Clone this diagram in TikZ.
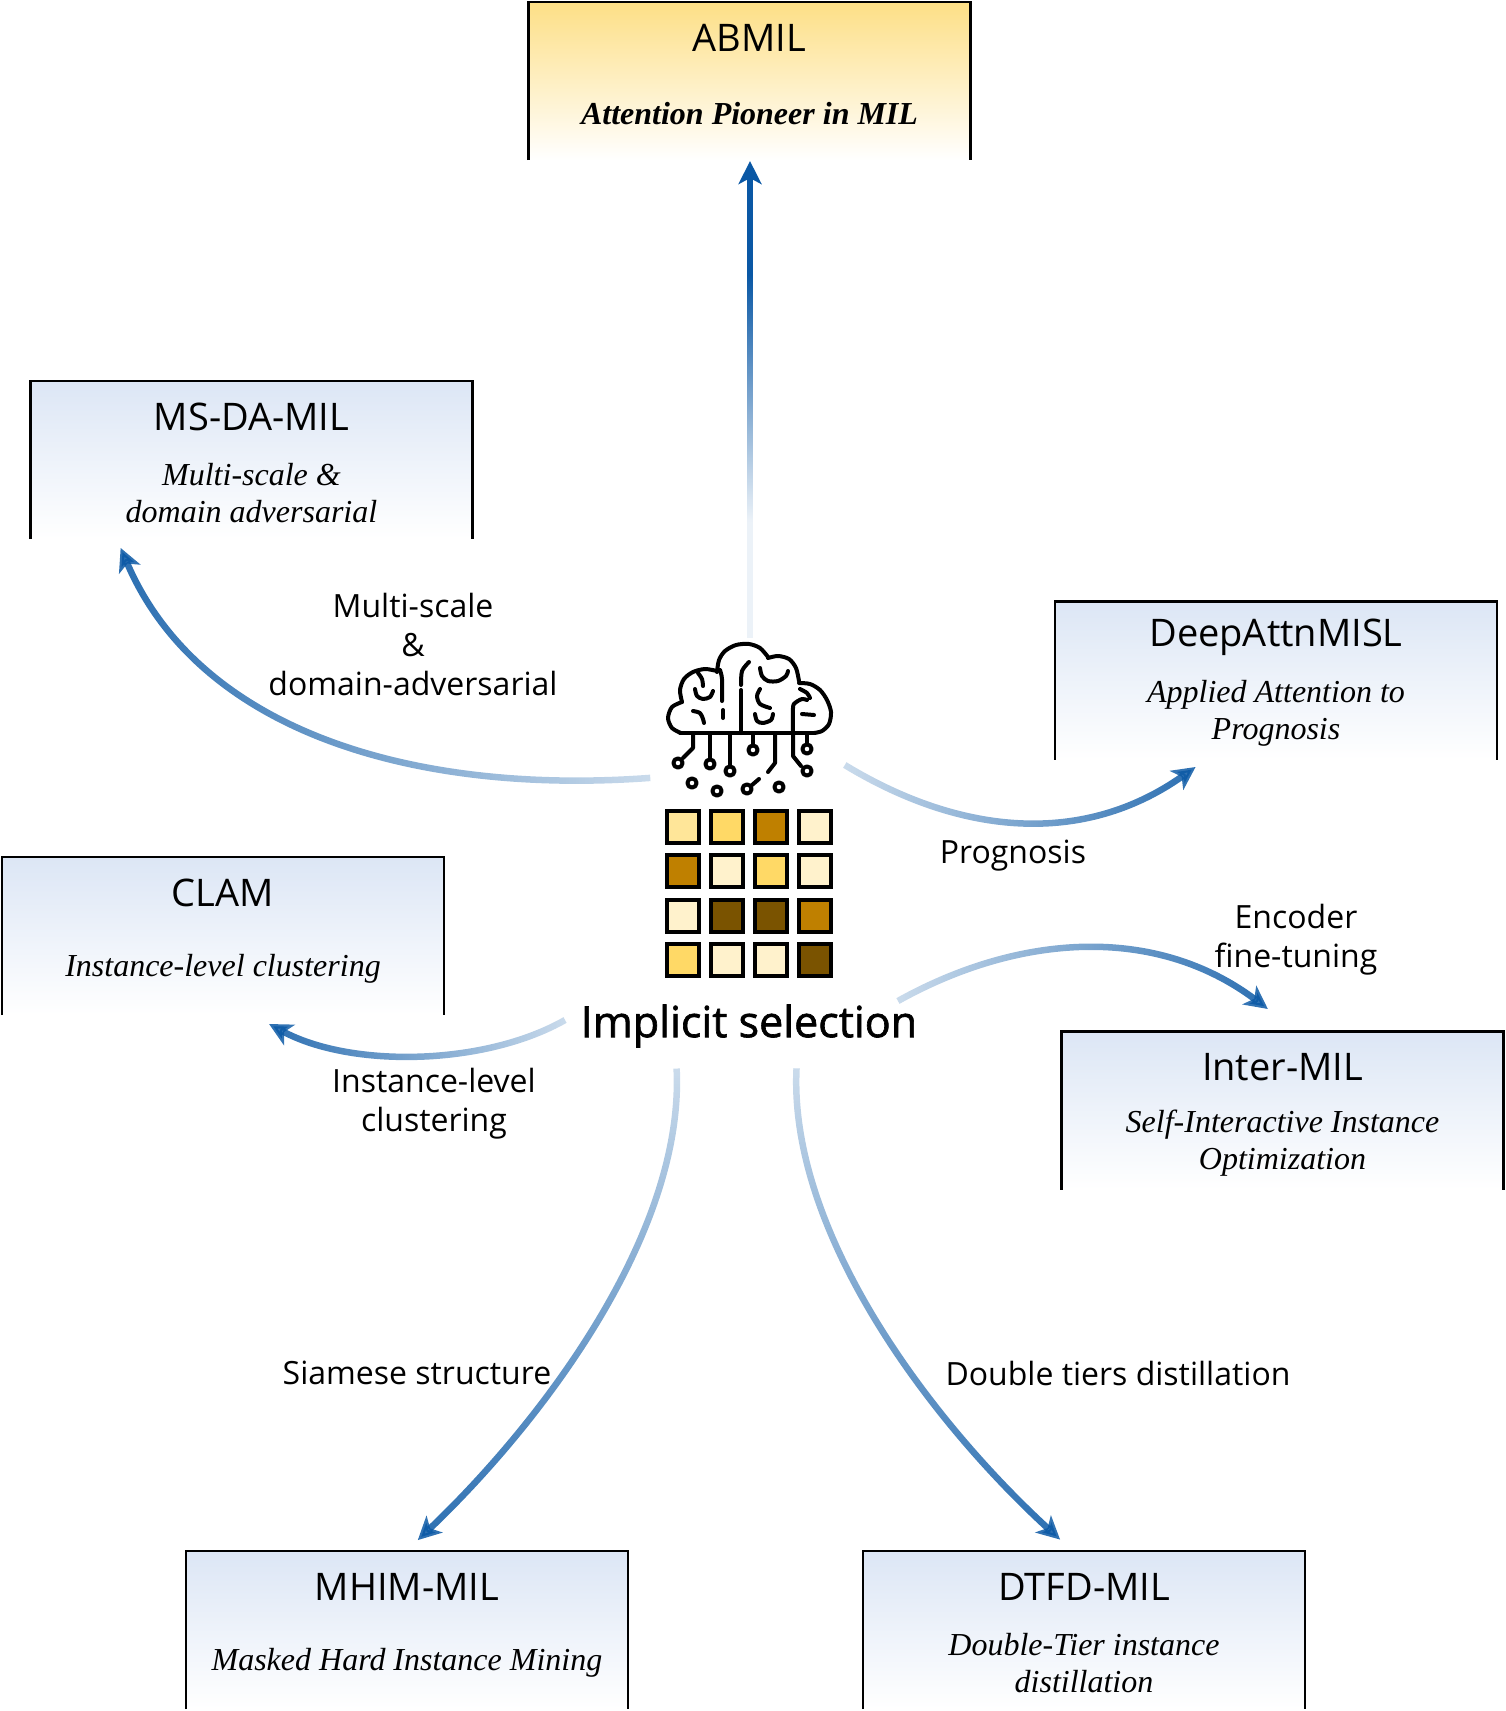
\documentclass[tikz,border=0pt]{standalone}
\usepackage{fontspec}
\setmainfont{Liberation Serif}
\setsansfont{Open Sans}
\usetikzlibrary{arrows.meta,fadings}

\definecolor{boxblue}{HTML}{DCE6F5}
\definecolor{boxgold}{HTML}{FDDF86}
\definecolor{arrowblue}{RGB}{10,88,165}
\definecolor{cream}{HTML}{FFF2CC}
\definecolor{lgold}{HTML}{FFE699}
\definecolor{gold}{HTML}{FFD966}
\definecolor{brown}{HTML}{BF8000}
\definecolor{dbrown}{HTML}{7A5300}

\tikzfading[name=flowfade, left color=transparent!92, middle color=transparent!20, right color=transparent!0]

\begin{document}
\begin{tikzpicture}[x=1pt, y=-1pt,
    method/.style={minimum width=442pt, minimum height=158pt, inner sep=0pt,
        top color=boxblue, bottom color=white},
    edge/.style={line width=2.5pt, black},
    title/.style={font=\sffamily\fontsize{38}{44}\selectfont},
    sub/.style={font=\fontsize{32}{37}\selectfont\itshape, align=center},
    lbl/.style={font=\sffamily\fontsize{32}{39}\selectfont, align=center},
    hub/.style={font=\sffamily\fontsize{43}{50}\selectfont\addfontfeatures{FakeBold=1.5}},
    flow/.style={draw=arrowblue, line width=6.5pt,
        -{Stealth[length=23pt, width=23pt, inset=6pt]}, path fading=flowfade},
    fade/.style={fading transform={rotate=#1, scale=1.4}},
    icon/.style={line width=4pt, line cap=round, line join=round},
    cell/.style={line width=4pt, draw=black}]
    \useasboundingbox (0,0) rectangle (1505,1711);

    \node[method, top color=boxgold] (abmil) at (749.5,81) {};
    \node[method] (msda) at (251.5,460) {};
    \node[method] (deep) at (1276,680.5) {};
    \node[method] (clam) at (223,936) {};
    \node[method] (inter) at (1282.5,1110.5) {};
    \node[method] (mhim) at (407,1630) {};
    \node[method] (dtfd) at (1084,1630) {};
    \foreach \b in {abmil,msda,deep,clam,inter,mhim,dtfd}
        \draw[edge] (\b.south west) |- (\b.north east) -- (\b.south east);

    \node[title] (abmil-t) at ([yshift=-36pt]abmil.north) {ABMIL};
    \node[sub, font=\fontsize{32}{37}\selectfont\bfseries\itshape] (abmil-s) at ([yshift=-112pt]abmil.north) {Attention Pioneer in MIL};
    \node[title] (msda-t) at ([yshift=-36pt]msda.north) {MS-DA-MIL};
    \node[sub] (msda-s) at ([yshift=-112pt]msda.north) {Multi-scale \&\\domain adversarial};
    \node[title] (deep-t) at ([yshift=-36pt]deep.north) {DeepAttnMISL};
    \node[sub] (deep-s) at ([yshift=-112pt]deep.north) {Applied Attention to\\Prognosis};
    \node[title] (clam-t) at ([yshift=-36pt]clam.north) {CLAM};
    \node[sub] (clam-s) at ([yshift=-112pt]clam.north) {Instance-level clustering};
    \node[title] (inter-t) at ([yshift=-36pt]inter.north) {Inter-MIL};
    \node[sub] (inter-s) at ([yshift=-112pt]inter.north) {Self-Interactive Instance\\Optimization};
    \node[title] (mhim-t) at ([yshift=-36pt]mhim.north) {MHIM-MIL};
    \node[sub] (mhim-s) at ([yshift=-112pt]mhim.north) {Masked Hard Instance Mining};
    \node[title] (dtfd-t) at ([yshift=-36pt]dtfd.north) {DTFD-MIL};
    \node[sub] (dtfd-s) at ([yshift=-112pt]dtfd.north) {Double-Tier instance\\distillation};

    \node[hub] (hub) at (749,1026) {Implicit selection};

    \node[lbl] (msda-l) at (413,644) {Multi-scale\\\&\\domain-adversarial};
    \node[lbl] (deep-l) at (1013,856) {Prognosis};
    \node[lbl] (inter-l) at (1296,940) {Encoder\\fine-tuning};
    \node[lbl] (clam-l) at (434,1104) {Instance-level\\clustering};
    \node[lbl] (mhim-l) at (417,1373) {Siamese structure};
    \node[lbl] (dtfd-l) at (1118,1373) {Double tiers distillation};

    % brain
    \draw[icon] (680,733) -- (815,733);
    \draw[icon] plot[smooth] coordinates {(681,733) (672,728) (668,718) (672,707) (682,702)};
    \draw[icon] plot[smooth] coordinates {(682,702) (680,690) (684,679) (693,672) (705,669) (717,671)};
    \draw[icon] plot[smooth] coordinates {(717,672) (719,660) (725,651) (736,645) (749,644) (760,648) (768,657)};
    \draw[icon] plot[smooth] coordinates {(768,658) (778,656) (789,659) (796,668) (799,681)};
    \draw[icon] plot[smooth] coordinates {(799,683) (810,684) (820,690) (827,700) (831,712) (829,724) (822,731) (814,733)};
    \draw[icon] plot[smooth] coordinates {(698,673) (702,679) (703,686)};
    \draw[icon] plot[smooth] coordinates {(695,689) (697,696) (703,699) (710,697) (713,691)};
    \draw[icon] plot[smooth] coordinates {(720,670) (722,679) (722,701)};
    \draw[icon] (723,710) -- (723,718);
    \draw[icon] plot[smooth] coordinates {(693,711) (700,713) (703,719) (704,723)};
    \draw[icon] (741,690) -- (741,733);
    \draw[icon] plot[smooth] coordinates {(741,685) (742,671) (749,662)};
    \draw[icon] plot[smooth] coordinates {(760,668) (762,676) (768,681) (778,681) (786,676) (788,671)};
    \draw[icon] plot[smooth] coordinates {(760,689) (757,696) (760,704) (770,708)};
    \draw[icon] plot[smooth] coordinates {(755,714) (757,721) (763,723) (771,720) (773,714)};
    \draw[icon] plot[smooth] coordinates {(793,733) (793,708) (795,703) (802,699) (807,700)};
    \draw[icon] plot[smooth] coordinates {(800,689) (807,693) (810,698)};
    \draw[icon] (802,714) -- (814,715);
    % circuits
    \draw[icon] (693,733) -- (693,748) -- (683,758);
    \draw[icon] (710,733) -- (710,758);
    \draw[icon] (730,733) -- (730,765);
    \draw[icon] (753,733) -- (753,744);
    \draw[icon] (775,733) -- (775,763) -- (768,772);
    \draw[icon] (793,733) -- (793,756) -- (801,766);
    \draw[icon] (807,733) -- (807,743);
    \draw[icon] (752,785) -- (759,779);
    \foreach \p in {(678,763),(710,764),(730,771),(753,750),(807,771),(807,749),(692,783),(717,791),(747,789),(779,787)}
        \draw[icon] \p circle[radius=4.6];

    % tiles
    \foreach \cl [count=\r from 0] in {{lgold,gold,brown,cream},{brown,cream,gold,cream},{cream,dbrown,dbrown,brown},{gold,cream,cream,dbrown}}
        \foreach \c [count=\k from 0] in \cl
            \draw[cell, fill=\c] (666.5+44.3*\k, 811+44.3*\r) rectangle +(32,32);

    \coordinate (abmil-out) at (750,638);
    \coordinate (abmil-in) at (750,161);
    \coordinate (msda-out) at (650,778);
    \coordinate (msda-in) at (120,548);
    \coordinate (deep-out) at (845,765);
    \coordinate (deep-in) at (1196,767);
    \coordinate (inter-out) at (898,1001);
    \coordinate (inter-in) at (1268,1009);
    \coordinate (clam-out) at (565,1020);
    \coordinate (clam-in) at (269,1024);
    \coordinate (mhim-out) at (677,1069);
    \coordinate (mhim-in) at (418,1541);
    \coordinate (dtfd-out) at (797,1069);
    \coordinate (dtfd-in) at (1061,1541);

    \draw[flow, fit fading=false, fading transform={shift={(750,398)}, yscale=4.9, rotate=90}] (abmil-out) -- (abmil-in);
    \draw[flow, fade=180] (msda-out) .. controls (420,795) and (200,735) .. (msda-in);
    \draw[flow, fade=0] (deep-out) .. controls (962,836) and (1084,846) .. (deep-in);
    \draw[flow, fade=0] (inter-out) .. controls (1020,933) and (1156,925) .. (inter-in);
    \draw[flow, fade=180] (clam-out) .. controls (484,1066) and (351,1068) .. (clam-in);
    \draw[flow, fade=-90] (mhim-out) .. controls (685,1230) and (548,1417) .. (mhim-in);
    \draw[flow, fade=-90] (dtfd-out) .. controls (789,1230) and (926,1417) .. (dtfd-in);
\end{tikzpicture}
\end{document}
